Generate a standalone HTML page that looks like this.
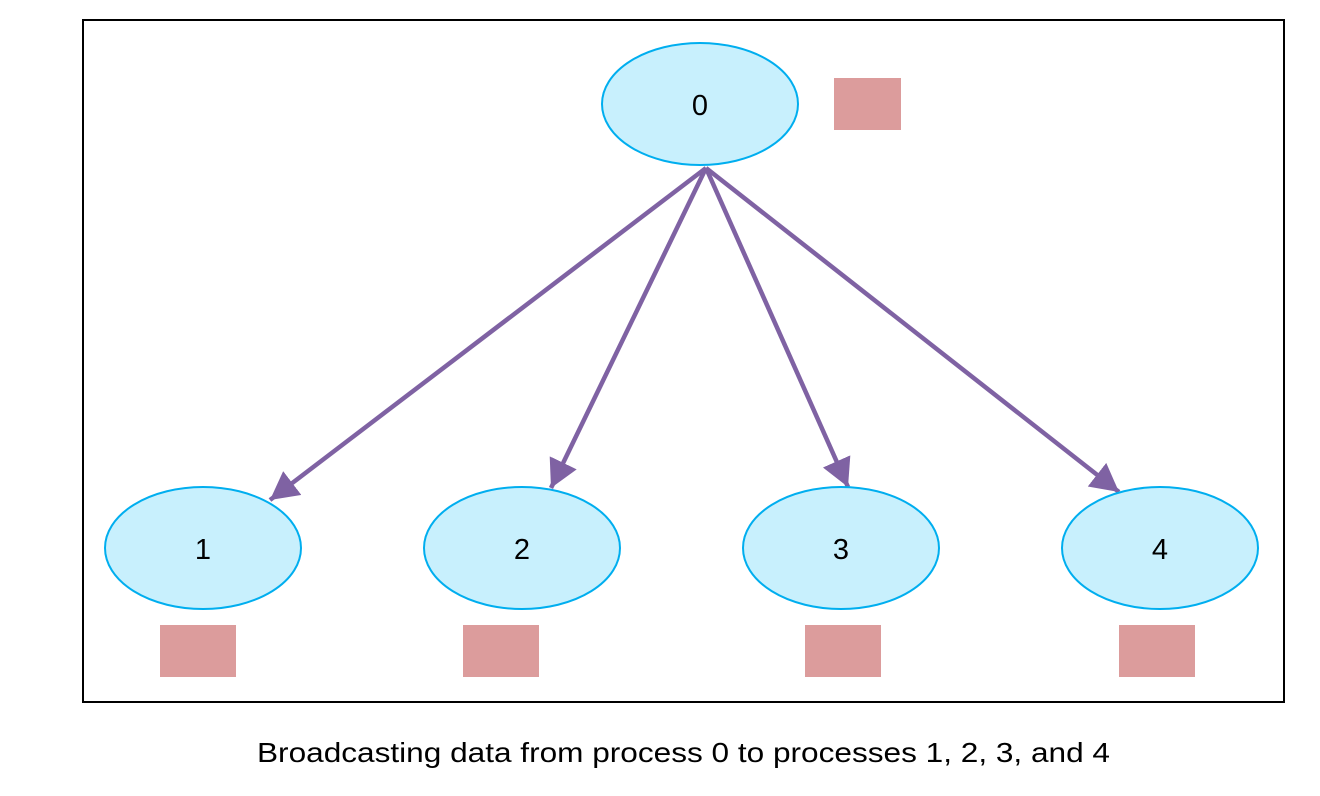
<!DOCTYPE html>
<html><head><meta charset="utf-8"><style>
html,body{margin:0;padding:0;background:#fff;width:1320px;height:796px;overflow:hidden}
svg{display:block}
text{font-family:"Liberation Sans",sans-serif}
</style></head><body>
<svg width="1320" height="796" viewBox="0 0 1320 796">
<defs>
<marker id="ah" markerUnits="userSpaceOnUse" markerWidth="34" markerHeight="34" refX="28" refY="15" orient="auto">
<path d="M0,0 L28,15 L0,30 Z" fill="#7f62a3"/>
</marker>
</defs>
<rect x="83" y="20" width="1201" height="682" fill="#fff" stroke="#000" stroke-width="2"/>
<g stroke="#7f62a3" stroke-width="4.5" fill="none" marker-end="url(#ah)">
<line x1="706" y1="168" x2="270" y2="500"/>
<line x1="706" y1="168" x2="551" y2="488"/>
<line x1="706" y1="168" x2="848" y2="487"/>
<line x1="706" y1="168" x2="1119" y2="492"/>
</g>
<g fill="#c8f0fd" stroke="#00aeef" stroke-width="2">
<ellipse cx="700" cy="104" rx="98" ry="61"/>
<ellipse cx="203" cy="548" rx="98" ry="61"/>
<ellipse cx="522" cy="548" rx="98" ry="61"/>
<ellipse cx="841" cy="548" rx="98" ry="61"/>
<ellipse cx="1160" cy="548" rx="98" ry="61"/>
</g>
<g fill="#dc9c9c">
<rect x="834" y="78" width="67" height="52"/>
<rect x="160" y="625" width="76" height="52"/>
<rect x="463" y="625" width="76" height="52"/>
<rect x="805" y="625" width="76" height="52"/>
<rect x="1119" y="625" width="76" height="52"/>
</g>
<g font-size="29" text-anchor="middle" fill="#000">
<text x="700" y="115">0</text>
<text x="203" y="559">1</text>
<text x="522" y="559">2</text>
<text x="841" y="559">3</text>
<text x="1160" y="559">4</text>
</g>
<text x="257" y="762" font-size="28" textLength="853" lengthAdjust="spacingAndGlyphs" fill="#000">Broadcasting data from process 0 to processes 1, 2, 3, and 4</text>
</svg>
</body></html>
